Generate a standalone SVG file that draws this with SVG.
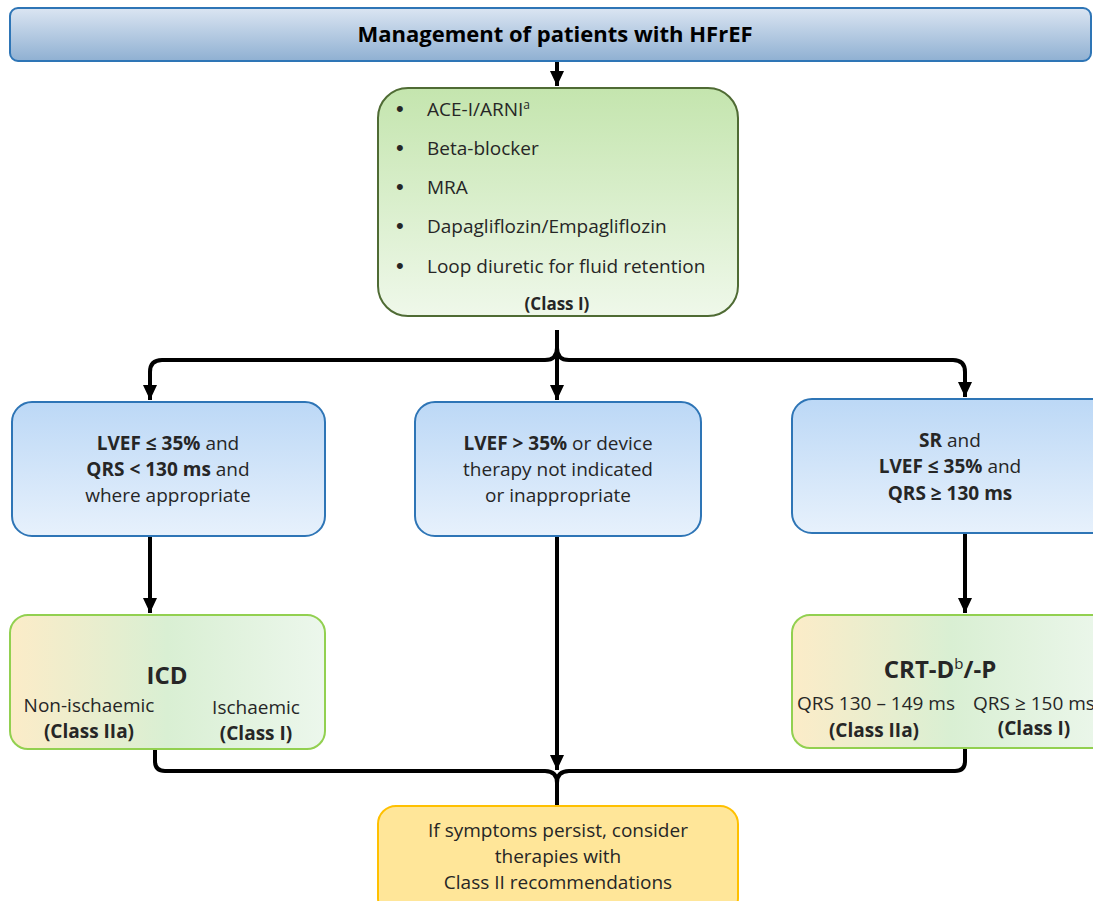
<svg xmlns="http://www.w3.org/2000/svg" width="1093" height="901" viewBox="0 0 1093 901">
<defs>
<linearGradient id="gTop" x1="0" y1="0" x2="0" y2="1"><stop offset="0" stop-color="#dbe5f2"/><stop offset="1" stop-color="#8fb0d2"/></linearGradient>
<linearGradient id="gGreen" x1="0" y1="0" x2="0" y2="1"><stop offset="0" stop-color="#c4e5ae"/><stop offset="1" stop-color="#eff8ea"/></linearGradient>
<linearGradient id="gBlue" x1="0" y1="0" x2="0" y2="1"><stop offset="0" stop-color="#bcd8f6"/><stop offset="1" stop-color="#e7f1fc"/></linearGradient>
<linearGradient id="gMix" x1="0" y1="0" x2="1" y2="0"><stop offset="0" stop-color="#fcecc8"/><stop offset="0.5" stop-color="#d9efd3"/><stop offset="1" stop-color="#ecf7ec"/></linearGradient>
<marker id="ah" markerUnits="userSpaceOnUse" markerWidth="16" markerHeight="16" refX="15" refY="7" orient="auto"><path d="M0,0 L15,7 L0,14 z" fill="#000"/></marker>
</defs>
<style>
text{font-family:"Open Sans","Liberation Sans",Arial,sans-serif;fill:#262626;font-size:19px}
.c{text-anchor:middle}
.b{font-weight:bold}
.bul{font-size:22px;font-family:"Liberation Sans",Arial,sans-serif}
.ln{fill:none;stroke:#000;stroke-width:4}
</style>
<g id="connectors">
<path class="ln" d="M557,62 L557,86" marker-end="url(#ah)"/>
<path class="ln" d="M150,398 L150,372 Q150,360 162,360 L545,360 Q557,360 557,348 L557,330 M557,348 Q557,360 569,360 L953,360 Q965,360 965,372 L965,396"/>
<path class="ln" d="M150,372 L150,400" marker-end="url(#ah)"/>
<path class="ln" d="M965,372 L965,397" marker-end="url(#ah)"/>
<path class="ln" d="M557,348 L557,400" marker-end="url(#ah)"/>
<path class="ln" d="M150,537 L150,613" marker-end="url(#ah)"/>
<path class="ln" d="M965,534 L965,613" marker-end="url(#ah)"/>
<path class="ln" d="M557,537 L557,770" marker-end="url(#ah)"/>
<path class="ln" d="M155,749 L155,761 Q155,771 165,771 L545,771 Q557,771 557,783 L557,806 M557,783 Q557,771 569,771 L955,771 Q965,771 965,761 L965,748"/>
</g>
<g id="title">
<rect x="10" y="8" width="1081" height="53" rx="8" fill="url(#gTop)" stroke="#2e75b6" stroke-width="2"/>
<text class="c b" x="555" y="42" style="font-size:22px;fill:#000">Management of patients with HFrEF</text>
</g>
<g id="therapy">
<rect x="378" y="88" width="360" height="228" rx="30" fill="url(#gGreen)" stroke="#4f6b34" stroke-width="2"/>
<text class="bul" x="396" y="116">•</text><text x="427" y="116">ACE-I/ARNI<tspan style="font-size:12px" dy="-7">a</tspan></text>
<text class="bul" x="396" y="155">•</text><text x="427" y="155">Beta-blocker</text>
<text class="bul" x="396" y="194">•</text><text x="427" y="194">MRA</text>
<text class="bul" x="396" y="233">•</text><text x="427" y="233">Dapagliflozin/Empagliflozin</text>
<text class="bul" x="396" y="273">•</text><text x="427" y="273">Loop diuretic for fluid retention</text>
<text class="c b" x="557" y="310" style="font-size:17px">(Class I)</text>
</g>
<g id="left-cond">
<rect x="12" y="402" width="313" height="134" rx="20" fill="url(#gBlue)" stroke="#2e75b6" stroke-width="2"/>
<text class="c" x="168" y="450"><tspan class="b">LVEF ≤ 35%</tspan> and</text>
<text class="c" x="168" y="476"><tspan class="b">QRS &lt; 130 ms</tspan> and</text>
<text class="c" x="168" y="502">where appropriate</text>
</g>
<g id="mid-cond">
<rect x="415" y="402" width="286" height="134" rx="20" fill="url(#gBlue)" stroke="#2e75b6" stroke-width="2"/>
<text class="c" x="558" y="450"><tspan class="b">LVEF &gt; 35%</tspan> or device</text>
<text class="c" x="558" y="476">therapy not indicated</text>
<text class="c" x="558" y="502">or inappropriate</text>
</g>
<g id="right-cond">
<rect x="792" y="399" width="320" height="134" rx="20" fill="url(#gBlue)" stroke="#2e75b6" stroke-width="2"/>
<text class="c" x="950" y="447"><tspan class="b">SR</tspan> and</text>
<text class="c" x="950" y="473"><tspan class="b">LVEF ≤ 35%</tspan> and</text>
<text class="c b" x="950" y="500">QRS ≥ 130 ms</text>
</g>
<g id="icd">
<rect x="10" y="615" width="315" height="134" rx="18" fill="url(#gMix)" stroke="#92d050" stroke-width="2"/>
<text class="c b" x="167" y="684" style="font-size:24px">ICD</text>
<text class="c" x="89" y="712">Non-ischaemic</text>
<text class="c b" x="89" y="738">(Class IIa)</text>
<text class="c" x="256" y="714">Ischaemic</text>
<text class="c b" x="256" y="740">(Class I)</text>
</g>
<g id="crt">
<rect x="792" y="615" width="320" height="133" rx="18" fill="url(#gMix)" stroke="#92d050" stroke-width="2"/>
<text class="c b" x="940" y="678" style="font-size:24px">CRT-D<tspan style="font-size:15px;font-weight:normal" dy="-9">b</tspan><tspan dy="9">/-P</tspan></text>
<text class="c" x="876" y="710">QRS 130 – 149 ms</text>
<text class="c b" x="874" y="737">(Class IIa)</text>
<text class="c" x="1034" y="710">QRS ≥ 150 ms</text>
<text class="c b" x="1034" y="735">(Class I)</text>
</g>
<g id="persist">
<rect x="378" y="806" width="360" height="110" rx="18" fill="#ffe699" stroke="#ffc000" stroke-width="2"/>
<text class="c" x="558" y="837">If symptoms persist, consider</text>
<text class="c" x="558" y="863">therapies with</text>
<text class="c" x="558" y="889">Class II recommendations</text>
</g>
</svg>
